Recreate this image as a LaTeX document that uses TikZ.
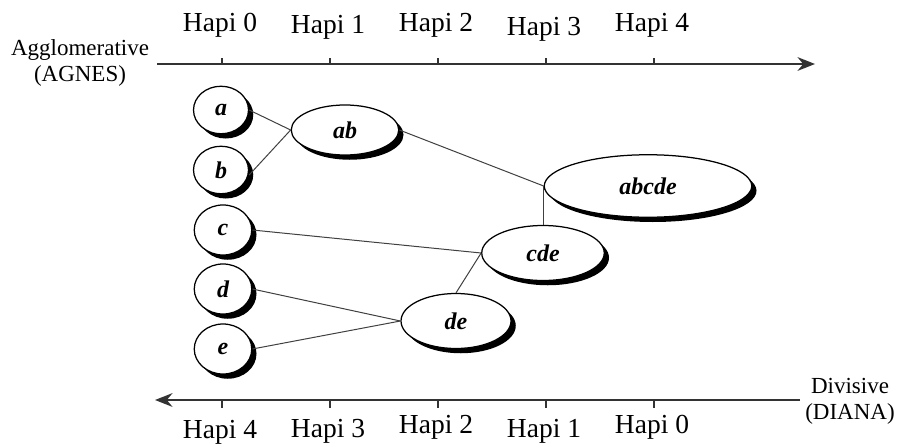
\documentclass[tikz,border=0pt]{standalone}
\usepackage{fontspec}
\setmainfont{Liberation Serif}
\usetikzlibrary{shapes.geometric,shadows,arrows.meta}
\begin{document}
\begin{tikzpicture}[x=0.4pt,y=-0.4pt,
  clus/.style={ellipse,draw=black,line width=0.5pt,fill=white,inner sep=0pt,
    font=\fontsize{9.6}{11}\selectfont\bfseries\itshape,
    drop shadow={shadow xshift=1.9pt,shadow yshift=-1.9pt,fill=black,opacity=1}},
  axis/.style={line width=0.7pt,draw=black!80},
  tip/.style={-{Stealth[length=7pt,width=5.5pt]}},
  link/.style={line width=0.4pt,draw=black!75},
  tick/.style={line width=0.5pt,draw=black!80},
  lbl/.style={font=\fontsize{11}{12}\selectfont},
  side/.style={font=\fontsize{9.2}{10.5}\selectfont,align=center}]
\useasboundingbox (0,0) rectangle (897,446);
% top axis
\coordinate (t0) at (157,64);
\coordinate (t1) at (815,64);
\draw[axis,tip] (t0) -- (t1);
\foreach \x/\n/\y in {222/0/25,330/1/27,438/2/25,546/3/29,654/4/25}{
  \draw[tick] (\x,64) -- (\x,58);
  \node[lbl] (top\n) at (\x-2,\y) {Hapi \n};
}
\node[side] (agnes) at (80,63) {Agglomerative\\(AGNES)};
% bottom axis
\coordinate (b0) at (800,400);
\coordinate (b1) at (155,400);
\draw[axis,tip] (b0) -- (b1);
\foreach \x/\n/\y in {222/4/432,330/3/431,438/2/427,546/1/431,654/0/427}{
  \draw[tick] (\x,400) -- (\x,408);
  \node[lbl] (bot\n) at (\x-2,\y) {Hapi \n};
}
\node[side] (diana) at (850,401) {Divisive\\(DIANA)};
% clusters
\node[clus,minimum width=22pt,minimum height=19pt] (a) at (221,110) {a};
\node[clus,minimum width=22pt,minimum height=19pt] (b) at (221,170) {b};
\node[clus,minimum width=23pt,minimum height=20pt] (c) at (223,230) {c};
\node[clus,minimum width=23pt,minimum height=20pt] (d) at (223,289) {d};
\node[clus,minimum width=23pt,minimum height=20pt] (e) at (223,349) {e};
\node[clus,minimum width=43pt,minimum height=20pt] (ab) at (345,130) {ab};
\node[clus,minimum width=83pt,minimum height=25pt] (abcde) at (648,186) {abcde};
\node[clus,minimum width=49pt,minimum height=22pt] (cde) at (543,253) {cde};
\node[clus,minimum width=44pt,minimum height=22pt] (de) at (456,321) {de};
% links
\coordinate (abJ) at (ab.west);
\coordinate (abcdeJ) at (abcde.west);
\draw[link] (a.east) -- (abJ);
\draw[link] ([yshift=-2pt]b.east) -- (abJ);
\draw[link] (ab.east) -- (abcdeJ);
\draw[link] (abcdeJ) -- (abcdeJ |- cde.north);
\draw[link] (c.east) -- (cde.west);
\draw[link] (d.east) -- (de.west);
\draw[link] (e.east) -- (de.west);
\draw[link] (de.north) -- (cde.west);
\end{tikzpicture}
\end{document}
